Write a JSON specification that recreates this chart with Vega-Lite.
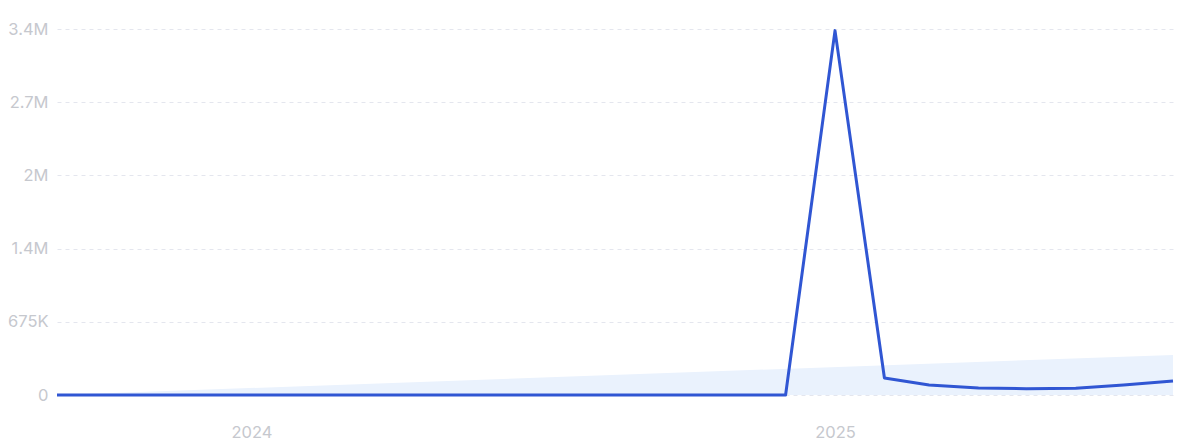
{
  "$schema": "https://vega.github.io/schema/vega-lite/v6.json",
  "width": 1116,
  "height": 366,
  "autosize": {"type": "none"},
  "padding": {"left": 57, "top": 29, "right": 27, "bottom": 51},
  "background": "white",
  "config": {
    "view": {"stroke": null},
    "font": "Inter",
    "axis": {
      "labelColor": "#c6c8ce",
      "labelFontSize": 16.5,
      "labelFont": "Inter",
      "domain": false,
      "ticks": false,
      "title": null
    }
  },
  "datasets": {
    "monthly": [
      {"month": "2023-09-01", "value": 0},
      {"month": "2023-10-01", "value": 0},
      {"month": "2023-11-01", "value": 0},
      {"month": "2023-12-01", "value": 0},
      {"month": "2024-01-01", "value": 0},
      {"month": "2024-02-01", "value": 0},
      {"month": "2024-03-01", "value": 0},
      {"month": "2024-04-01", "value": 0},
      {"month": "2024-05-01", "value": 0},
      {"month": "2024-06-01", "value": 0},
      {"month": "2024-07-01", "value": 0},
      {"month": "2024-08-01", "value": 0},
      {"month": "2024-09-01", "value": 0},
      {"month": "2024-10-01", "value": 0},
      {"month": "2024-11-01", "value": 0},
      {"month": "2024-12-01", "value": 0},
      {"month": "2025-01-01", "value": 3360000},
      {"month": "2025-02-01", "value": 157000},
      {"month": "2025-03-01", "value": 92000},
      {"month": "2025-04-01", "value": 65000},
      {"month": "2025-05-01", "value": 58000},
      {"month": "2025-06-01", "value": 62000},
      {"month": "2025-07-01", "value": 92000},
      {"month": "2025-08-01", "value": 129000}
    ],
    "trend": [
      {"month": "2023-09-01", "value": 0},
      {"month": "2025-08-01", "value": 370000}
    ]
  },
  "encoding": {
    "x": {
      "field": "month",
      "type": "temporal",
      "scale": {
        "domain": [
          {"year": 2023, "month": 9, "date": 1},
          {"year": 2025, "month": 8, "date": 1}
        ]
      },
      "axis": {
        "values": [
          {"year": 2024, "month": 1, "date": 1},
          {"year": 2025, "month": 1, "date": 1}
        ],
        "format": "%Y",
        "grid": false,
        "labelPadding": 29
      }
    },
    "y": {
      "field": "value",
      "type": "quantitative",
      "scale": {"domain": [0, 3375000], "nice": false},
      "axis": {
        "values": [0, 675000, 1350000, 2025000, 2700000, 3375000],
        "labelExpr": "datum.value == 0 ? '0' : datum.value < 1000000 ? format(datum.value / 1000, 'd') + 'K' : format(datum.value / 1000000, '.2~') + 'M'",
        "labelPadding": 9,
        "grid": true,
        "gridColor": "#e4e6ee",
        "gridDash": [4, 4],
        "gridWidth": 1
      }
    }
  },
  "layer": [
    {
      "data": {"name": "trend"},
      "mark": {"type": "area", "color": "#eaf2fd", "opacity": 1},
      "encoding": {}
    },
    {
      "data": {"name": "monthly"},
      "mark": {"type": "line", "color": "#3056d3", "strokeWidth": 3, "strokeJoin": "round"},
      "encoding": {}
    }
  ]
}
